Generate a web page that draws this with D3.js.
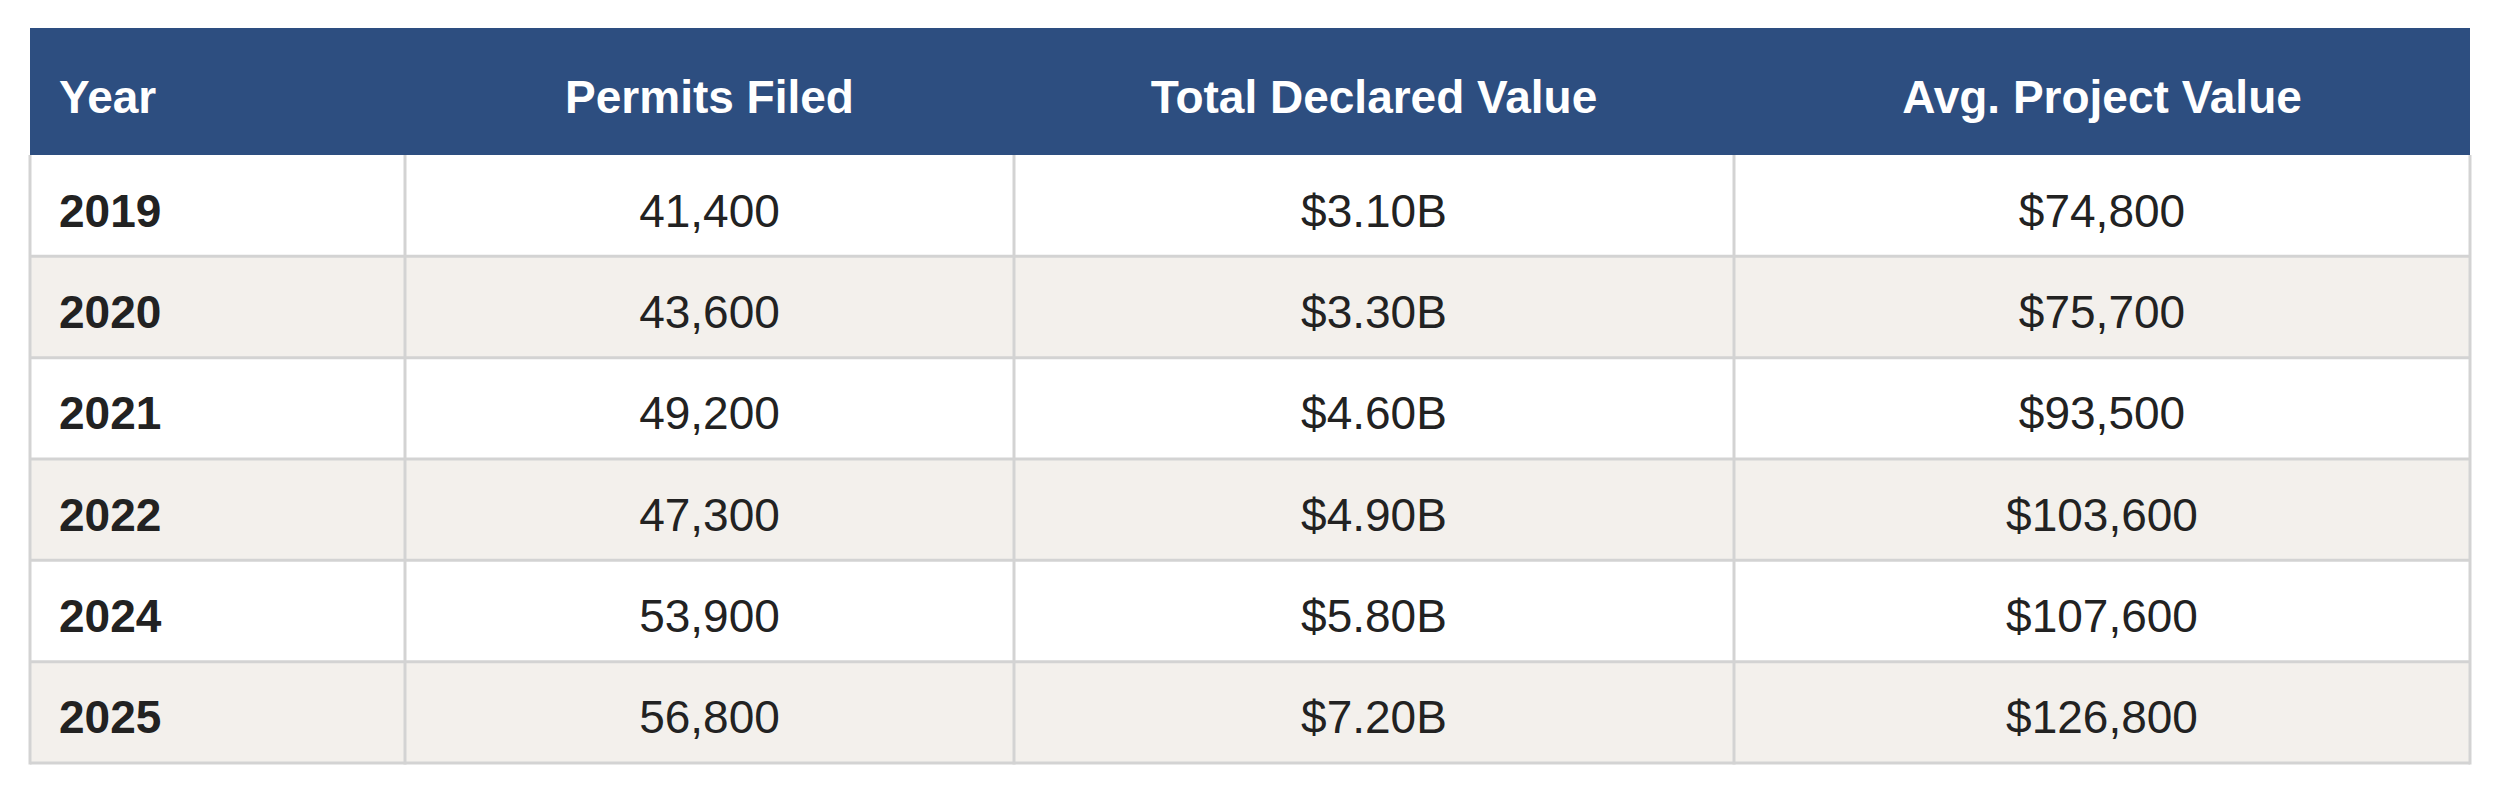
<!DOCTYPE html>
<html>
<head>
<meta charset="utf-8">
<script src="https://cdn.jsdelivr.net/npm/d3@7"></script>
<style>
  html, body { margin: 0; padding: 0; background: #ffffff; }
</style>
</head>
<body>
<div class="viz"></div>
<script>
// table data
const headers = ["Year", "Permits Filed", "Total Declared Value", "Avg. Project Value"];
const years = ["2019", "2020", "2021", "2022", "2024", "2025"];
const permitsFiled = [41400, 43600, 49200, 47300, 53900, 56800];
const totalValueB = [3.10, 3.30, 4.60, 4.90, 5.80, 7.20];
const avgProjectValue = [74800, 75700, 93500, 103600, 107600, 126800];

const width = 2500, height = 788;
const tblLeft = 30, tblRight = 2470, tblTop = 28, headH = 127, tblBottom = 763;
// column edges, left to right
const colEdges = [tblLeft, 405, 1014, 1734, tblRight];

const fmtInt = d3.format(",");
const rows = years.map((y, i) => [
  y,
  fmtInt(permitsFiled[i]),
  "$" + totalValueB[i].toFixed(2) + "B",
  "$" + fmtInt(avgProjectValue[i])
]);

const svg = d3.select(".viz").append("svg")
  .attr("width", width)
  .attr("height", height);

const yRow = d3.scaleBand()
  .domain(d3.range(rows.length))
  .range([tblTop + headH, tblBottom]);
const rowEdge = (i) => i < rows.length ? yRow(i) : tblBottom;

// header
svg.append("rect")
  .attr("x", tblLeft)
  .attr("y", tblTop)
  .attr("width", tblRight - tblLeft)
  .attr("height", headH)
  .attr("fill", "#2d4e80");

// body rows
svg.selectAll("rect.row")
  .data(rows)
  .enter().append("rect")
  .attr("class", "row")
  .attr("x", tblLeft)
  .attr("y", (d, i) => yRow(i))
  .attr("width", tblRight - tblLeft)
  .attr("height", yRow.bandwidth())
  .attr("fill", (d, i) => i % 2 ? "#f3f0ec" : "#ffffff");

// horizontal lines between rows
svg.selectAll("line.h")
  .data(d3.range(1, rows.length + 1))
  .enter().append("line")
  .attr("class", "h")
  .attr("x1", tblLeft)
  .attr("x2", tblRight)
  .attr("y1", d => rowEdge(d))
  .attr("y2", d => rowEdge(d))
  .attr("stroke", "#d3d3d3")
  .attr("stroke-width", 3);

// vertical lines (body only)
svg.selectAll("line.v")
  .data(colEdges)
  .enter().append("line")
  .attr("class", "v")
  .attr("x1", d => d)
  .attr("x2", d => d)
  .attr("y1", tblTop + headH)
  .attr("y2", tblBottom + 1.5)
  .attr("stroke", "#d3d3d3")
  .attr("stroke-width", 3);

const colX = (j) => j === 0 ? tblLeft + 29 : (colEdges[j] + colEdges[j + 1]) / 2;
const anchor = (j) => j === 0 ? "start" : "middle";

svg.selectAll("text.head")
  .data(headers)
  .enter().append("text")
  .attr("class", "head")
  .attr("x", (d, j) => colX(j))
  .attr("y", tblTop + headH / 2 + 21)
  .attr("text-anchor", (d, j) => anchor(j))
  .attr("font-family", "'Liberation Sans', Arial, sans-serif")
  .attr("font-weight", "bold")
  .attr("font-size", 46)
  .attr("fill", "#ffffff")
  .text(d => d);

rows.forEach((r, i) => {
  svg.selectAll("text.r" + i)
    .data(r)
    .enter().append("text")
    .attr("class", "r" + i)
    .attr("x", (d, j) => colX(j))
    .attr("y", yRow(i) + yRow.bandwidth() / 2 + 21)
    .attr("text-anchor", (d, j) => anchor(j))
    .attr("font-family", "'Liberation Sans', Arial, sans-serif")
    .attr("font-weight", (d, j) => j === 0 ? "bold" : "normal")
    .attr("font-size", 46)
    .attr("fill", "#222222")
    .text(d => d);
});
</script>
</body>
</html>
